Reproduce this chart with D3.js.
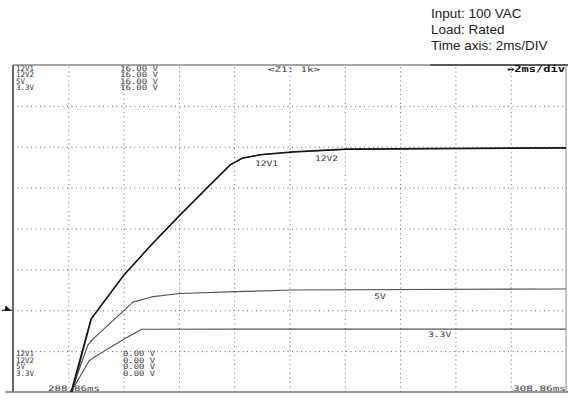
<!DOCTYPE html>
<html lang="en">
<head>
<meta charset="UTF-8">
<title>Power-on rise</title>
<script src="https://d3js.org/d3.v7.min.js"></script>
<style>
    body { margin: 0; background: #fff; }
    .scope { font-family: "DejaVu Sans Mono", monospace; fill: #3a3a3a; }
    .note { font-family: "Liberation Sans", Arial, sans-serif; font-size: 13.5px; fill: #222; }
    .grid line { stroke: #666; stroke-width: 1; stroke-dasharray: 1,3.5; }
    .grid path { display: none; }
</style>
</head>
<body>
<div id="chart"></div>
<script>
// time in ms from the left edge (288.86 ms), volts
var divTimes = [0, 2, 4, 6, 8, 10, 12, 14, 16, 18, 20];
var divVolts = [0, 2, 4, 6, 8, 10, 12, 14, 16];
var channels = ["12V1", "12V2", "5V", "3.3V"];
var topScale = "16.00 V";
var bottomScale = "0.00 V";
var startLabel = "288.86ms";
var endLabel = "308.86ms";
var notes = ["Input: 100 VAC", "Load: Rated", "Time axis: 2ms/DIV"];

var t12v1 = [2.10, 2.82, 4.01, 5.03, 6.04, 7.05, 7.85, 8.28, 8.93, 10.13, 12.07, 20];
var v12v1 = [0, 3.57, 5.72, 7.24, 8.66, 10.03, 11.11, 11.43, 11.60, 11.74, 11.87, 11.94];
var t12v2 = [2.14, 2.84, 4.02, 5.04, 6.05, 7.06, 7.86, 8.29, 8.94, 10.14, 12.08, 20];
var v12v2 = [0, 3.60, 5.74, 7.25, 8.67, 10.04, 11.12, 11.44, 11.61, 11.76, 11.89, 11.96];
var t5v = [2.10, 2.71, 2.89, 4.34, 5.00, 6.04, 8.07, 10.13, 20];
var v5v = [0, 2.30, 2.59, 4.40, 4.65, 4.82, 4.91, 4.99, 5.04];
var t3v3 = [2.10, 2.75, 2.89, 4.05, 4.66, 20];
var v3v3 = [0, 1.52, 1.66, 2.62, 3.07, 3.08];

// curve tags (t, V)
var tagText = ["12V1", "12V2", "5V", "3.3V"];
var tagT = [8.75, 10.92, 13.06, 15.01];
var tagV = [11.08, 11.30, 4.57, 2.69];
var markerV = 4;

var W = 568, H = 409;
var pLeft = 13, pRight = 566, pTop = 65, pBottom = 392;

var svg = d3.select("#chart").append("svg")
    .attr("width", W).attr("height", H)
    .style("display", "block");

var x = d3.scaleLinear().domain([0, 20]).range([pLeft, pRight]);
var y = d3.scaleLinear().domain([0, 16]).range([pBottom, pTop]);

// dotted grid
svg.append("g").attr("class", "grid")
    .attr("transform", "translate(0," + pBottom + ")")
    .call(d3.axisBottom(x).tickValues(divTimes.slice(1, -1)).tickSize(-(pBottom - pTop)).tickFormat(""));
svg.append("g").attr("class", "grid")
    .attr("transform", "translate(" + pLeft + ",0)")
    .call(d3.axisLeft(y).tickValues(divVolts.slice(1, -1)).tickSize(-(pRight - pLeft)).tickFormat(""));

// frame
svg.append("line").attr("x1", pLeft).attr("x2", 430).attr("y1", pTop).attr("y2", pTop)
    .attr("stroke", "#888").attr("stroke-width", 1.5);
svg.append("line").attr("x1", 430).attr("x2", W).attr("y1", pTop).attr("y2", pTop)
    .attr("stroke", "#222").attr("stroke-width", 1.5);
svg.append("line").attr("x1", pLeft).attr("x2", pLeft).attr("y1", pTop).attr("y2", pBottom)
    .attr("stroke", "#666").attr("stroke-width", 2);
svg.append("line").attr("x1", 5).attr("x2", W).attr("y1", pBottom).attr("y2", pBottom)
    .attr("stroke", "#777").attr("stroke-width", 1.5);
svg.append("line").attr("x1", pRight).attr("x2", pRight).attr("y1", pTop).attr("y2", pBottom)
    .attr("stroke", "#888").attr("stroke-width", 1);

// ground marker
var my = y(markerV);
svg.append("path")
    .attr("d", "M2," + my + "H12M5," + my + "L6," + (my - 4) + "L10," + my + "Z")
    .attr("stroke", "#111").attr("stroke-width", 1).attr("fill", "#111");

// traces
var line = d3.line().x(d => x(d[0])).y(d => y(d[1]));
var traces = [
    { t: t3v3, v: v3v3, c: "#555", w: 1.2 },
    { t: t5v, v: v5v, c: "#555", w: 1.2 },
    { t: t12v2, v: v12v2, c: "#333", w: 1.3 },
    { t: t12v1, v: v12v1, c: "#111", w: 1.3 }
];
traces.forEach(function (s) {
    svg.append("path")
        .datum(d3.zip(s.t, s.v))
        .attr("fill", "none")
        .attr("stroke", s.c)
        .attr("stroke-width", s.w)
        .attr("stroke-linejoin", "round")
        .attr("d", line);
});

// curve tags
tagText.forEach(function (s, i) {
    svg.append("text").attr("class", "scope")
        .attr("x", x(tagT[i])).attr("y", y(tagV[i]))
        .attr("font-size", 7.5)
        .attr("textLength", s.length * 5.8)
        .attr("lengthAdjust", "spacingAndGlyphs")
        .text(s);
});

// channel blocks
function block(y0, scaleText, sx, sw) {
    channels.forEach(function (c, i) {
        svg.append("text").attr("class", "scope")
            .attr("x", 16).attr("y", y0 + i * 6.5)
            .attr("font-size", 7.5)
            .text(c);
        svg.append("text").attr("class", "scope")
            .attr("x", sx).attr("y", y0 + i * 6.5)
            .attr("font-size", 7.5)
            .attr("textLength", sw)
            .attr("lengthAdjust", "spacingAndGlyphs")
            .text(scaleText);
    });
}
block(70.5, topScale, 120, 38);
block(356, bottomScale, 123, 32);

svg.append("text").attr("class", "scope")
    .attr("x", 268).attr("y", 72).attr("font-size", 7.5)
    .attr("textLength", 52).attr("lengthAdjust", "spacingAndGlyphs")
    .text("<Z1: 1k>");
svg.append("text").attr("class", "scope")
    .attr("x", 507).attr("y", 72).attr("font-size", 8.5)
    .attr("font-weight", "bold").style("fill", "#111")
    .attr("textLength", 58).attr("lengthAdjust", "spacingAndGlyphs")
    .text("\u21942ms/div");

svg.append("text").attr("class", "scope")
    .attr("x", 48).attr("y", 391).attr("font-size", 7.5)
    .attr("textLength", 52).attr("lengthAdjust", "spacingAndGlyphs")
    .text(startLabel);
svg.append("text").attr("class", "scope")
    .attr("x", 513).attr("y", 391).attr("font-size", 7.5)
    .attr("textLength", 53).attr("lengthAdjust", "spacingAndGlyphs")
    .text(endLabel);

// test conditions
notes.forEach(function (n, i) {
    svg.append("text").attr("class", "note")
        .attr("x", 431).attr("y", 18 + i * 16)
        .text(n);
});
</script>
</body>
</html>
